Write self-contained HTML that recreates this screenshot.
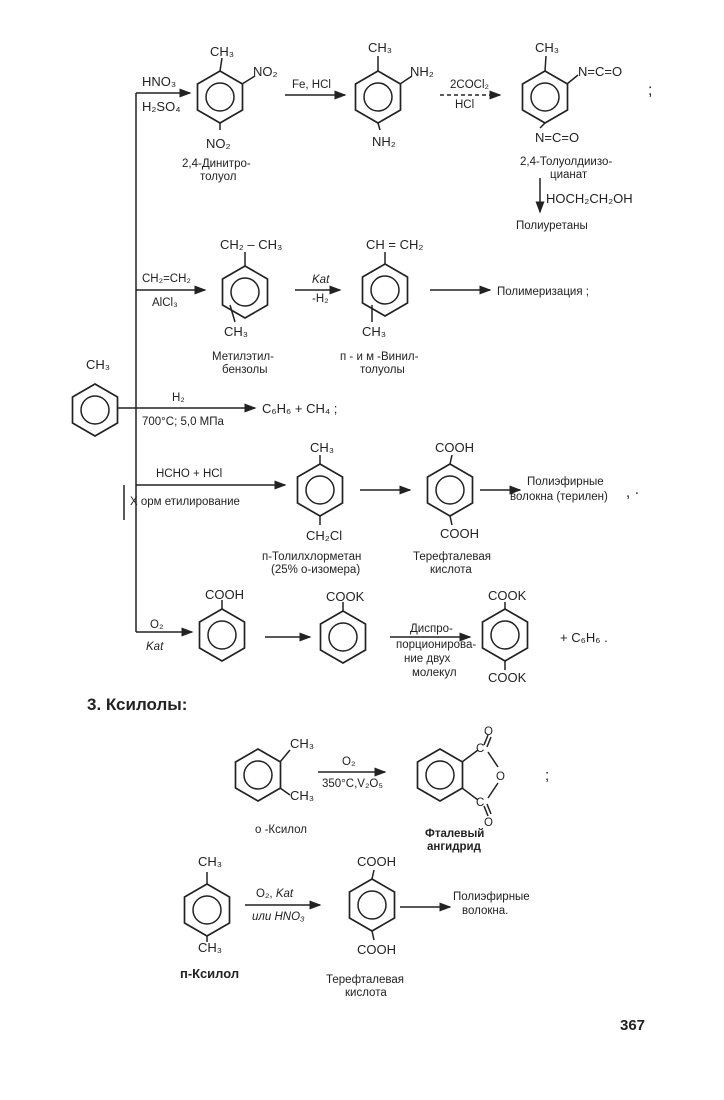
<!DOCTYPE html>
<html><head><meta charset="utf-8"><style>
body{margin:0;background:#fff}
svg{display:block}
text{font-family:"Liberation Sans",sans-serif;font-size:13px;fill:#222}
.s{font-size:11.5px}
.b{font-weight:bold}
</style></head><body>
<svg width="724" height="1100" viewBox="0 0 724 1100" xmlns="http://www.w3.org/2000/svg">
<defs>
<marker id="a" markerWidth="8" markerHeight="6" refX="7" refY="3" orient="auto"><path d="M0,0 L8,3 L0,6 z" fill="#222"/></marker>
<symbol id="bz" viewBox="-27 -27 54 54" width="54" height="54" overflow="visible">
<polygon points="0,-26 22.5,-13 22.5,13 0,26 -22.5,13 -22.5,-13" fill="none" stroke="#222" stroke-width="1.7"/>
<circle r="14" fill="none" stroke="#222" stroke-width="1.5"/>
</symbol>
</defs>
<g stroke="#222" stroke-width="1.5" fill="none">
<line x1="136" y1="93" x2="136" y2="632"/>
<line x1="136" y1="93" x2="190" y2="93" marker-end="url(#a)"/>
<line x1="136" y1="290" x2="205" y2="290" marker-end="url(#a)"/>
<line x1="118" y1="408" x2="255" y2="408" marker-end="url(#a)"/>
<line x1="136" y1="485" x2="285" y2="485" marker-end="url(#a)"/>
<line x1="124" y1="485" x2="124" y2="520"/>
<line x1="136" y1="632" x2="192" y2="632" marker-end="url(#a)"/>
<line x1="285" y1="95" x2="345" y2="95" marker-end="url(#a)"/>
<line x1="440" y1="95" x2="500" y2="95" stroke-dasharray="4,3" marker-end="url(#a)"/>
<line x1="220" y1="71" x2="222" y2="58"/><line x1="242" y1="84" x2="255" y2="76"/><line x1="220" y1="123" x2="220" y2="130"/>
<line x1="378" y1="71" x2="378" y2="56"/><line x1="400" y1="84" x2="412" y2="76"/><line x1="378" y1="123" x2="380" y2="130"/>
<line x1="545" y1="71" x2="546" y2="56"/><line x1="567" y1="84" x2="578" y2="75"/><line x1="545" y1="123" x2="540" y2="128"/>
<line x1="540" y1="178" x2="540" y2="212" marker-end="url(#a)"/>
<line x1="245" y1="266" x2="245" y2="252"/><line x1="230" y1="305" x2="235" y2="322"/>
<line x1="295" y1="290" x2="340" y2="290" marker-end="url(#a)"/>
<line x1="385" y1="264" x2="385" y2="252"/><line x1="372" y1="305" x2="372" y2="322"/>
<line x1="430" y1="290" x2="490" y2="290" marker-end="url(#a)"/>
<line x1="320" y1="464" x2="320" y2="455"/><line x1="320" y1="516" x2="320" y2="525"/>
<line x1="360" y1="490" x2="410" y2="490" marker-end="url(#a)"/>
<line x1="450" y1="464" x2="452" y2="455"/><line x1="450" y1="516" x2="452" y2="525"/>
<line x1="480" y1="490" x2="520" y2="490" marker-end="url(#a)"/>
<line x1="222" y1="609" x2="222" y2="600"/>
<line x1="265" y1="637" x2="310" y2="637" marker-end="url(#a)"/>
<line x1="343" y1="611" x2="343" y2="602"/>
<line x1="390" y1="637" x2="470" y2="637" marker-end="url(#a)"/>
<line x1="505" y1="609" x2="505" y2="602"/><line x1="505" y1="661" x2="505" y2="670"/>
<line x1="280" y1="762" x2="290" y2="750"/><line x1="280" y1="788" x2="290" y2="795"/>
<line x1="318" y1="772" x2="385" y2="772" marker-end="url(#a)"/>
<line x1="462" y1="762" x2="478" y2="750"/><line x1="462" y1="788" x2="478" y2="800"/>
<line x1="488" y1="752" x2="498" y2="767"/><line x1="488" y1="798" x2="498" y2="783"/>
<line x1="484" y1="745" x2="488" y2="735"/><line x1="487" y1="747" x2="491" y2="737"/>
<line x1="484" y1="806" x2="488" y2="816"/><line x1="487" y1="804" x2="491" y2="814"/>
<line x1="207" y1="884" x2="207" y2="872"/><line x1="207" y1="936" x2="207" y2="942"/>
<line x1="245" y1="905" x2="320" y2="905" marker-end="url(#a)"/>
<line x1="372" y1="879" x2="374" y2="870"/><line x1="372" y1="931" x2="374" y2="940"/>
<line x1="400" y1="907" x2="450" y2="907" marker-end="url(#a)"/>
</g>
<use href="#bz" x="193" y="70"/>
<use href="#bz" x="351" y="70"/>
<use href="#bz" x="518" y="70"/>
<use href="#bz" x="218" y="265"/>
<use href="#bz" x="358" y="263"/>
<use href="#bz" x="68" y="383"/>
<use href="#bz" x="293" y="463"/>
<use href="#bz" x="423" y="463"/>
<use href="#bz" x="195" y="608"/>
<use href="#bz" x="316" y="610"/>
<use href="#bz" x="478" y="608"/>
<use href="#bz" x="231" y="748"/>
<use href="#bz" x="413" y="748"/>
<use href="#bz" x="180" y="883"/>
<use href="#bz" x="345" y="878"/>

<text x="142" y="86">HNO₃</text><text x="142" y="111">H₂SO₄</text>
<text x="210" y="56">CH₃</text><text x="253" y="76">NO₂</text><text x="206" y="148">NO₂</text>
<text x="182" y="167" class="s">2,4-Динитро-</text><text x="200" y="180" class="s">толуол</text>
<text x="292" y="88" class="s">Fe, HCl</text>
<text x="368" y="52">CH₃</text><text x="410" y="76">NH₂</text><text x="372" y="146">NH₂</text>
<text x="450" y="88" class="s">2COCl₂</text><text x="455" y="108" class="s">HCl</text>
<text x="535" y="52">CH₃</text><text x="578" y="76">N=C=O</text><text x="535" y="142">N=C=O</text>
<text x="648" y="95" style="font-size:16px">;</text>
<text x="520" y="165" class="s">2,4-Толуолдиизо-</text><text x="550" y="178" class="s">цианат</text>
<text x="546" y="203">HOCH₂CH₂OH</text><text x="516" y="229" class="s">Полиуретаны</text>

<text x="142" y="282" class="s">CH₂=CH₂</text><text x="152" y="306" class="s">AlCl₃</text>
<text x="220" y="249">CH₂ – CH₃</text><text x="224" y="336">CH₃</text>
<text x="212" y="360" class="s">Метилэтил-</text><text x="222" y="373" class="s">бензолы</text>
<text x="312" y="283" class="s" font-style="italic">Kat</text><text x="312" y="302" class="s">-H₂</text>
<text x="366" y="249">CH = CH₂</text><text x="362" y="336">CH₃</text>
<text x="340" y="360" class="s">п - и м -Винил-</text><text x="360" y="373" class="s">толуолы</text>
<text x="497" y="295" class="s">Полимеризация  ;</text>

<text x="86" y="369">CH₃</text>
<text x="172" y="401" class="s">H₂</text><text x="142" y="425" class="s">700°C; 5,0 МПа</text>
<text x="262" y="413">C₆H₆ + CH₄ ;</text>

<text x="156" y="477" class="s">HCHO + HCl</text><text x="130" y="505" class="s">Х орм   етилирование</text>
<text x="310" y="452">CH₃</text><text x="306" y="540">CH₂Cl</text>
<text x="262" y="560" class="s">п-Толилхлорметан</text><text x="271" y="573" class="s">(25% о-изомера)</text>
<text x="435" y="452">COOH</text><text x="440" y="538">COOH</text>
<text x="413" y="560" class="s">Терефталевая</text><text x="430" y="573" class="s">кислота</text>
<text x="527" y="485" class="s">Полиэфирные</text><text x="510" y="500" class="s">волокна (терилен)</text>
<text x="626" y="497" style="font-size:15px">, ·</text>

<text x="150" y="628" class="s">O₂</text><text x="146" y="650" class="s" font-style="italic">Kat</text>
<text x="205" y="599">COOH</text><text x="326" y="601">COOK</text>
<text x="410" y="632" class="s">Диспро-</text><text x="396" y="648" class="s">порционирова-</text>
<text x="404" y="662" class="s">ние двух</text><text x="412" y="676" class="s">молекул</text>
<text x="488" y="600">COOK</text><text x="488" y="682">COOK</text>
<text x="560" y="642">+  C₆H₆ .</text>

<text x="87" y="710" class="b" style="font-size:17px">3. Ксилолы:</text>
<text x="290" y="748">CH₃</text><text x="290" y="800">CH₃</text>
<text x="342" y="765" class="s">O₂</text><text x="322" y="787" class="s">350°C,V₂O₅</text>
<text x="255" y="833" class="s">о -Ксилол</text>
<text x="484" y="735" class="s">O</text><text x="496" y="780" class="s">O</text><text x="484" y="826" class="s">O</text>
<text x="476" y="752" class="s">C</text><text x="476" y="806" class="s">C</text>
<text x="545" y="780" style="font-size:15px">;</text>
<text x="425" y="837" class="s b">Фталевый</text><text x="427" y="850" class="s b">ангидрид</text>
<text x="198" y="866">CH₃</text><text x="198" y="952">CH₃</text>
<text x="256" y="897" class="s">O₂, <tspan font-style="italic">Kat</tspan></text><text x="252" y="920" class="s" font-style="italic">или HNO₃</text>
<text x="357" y="866">COOH</text><text x="357" y="954">COOH</text>
<text x="453" y="900" class="s">Полиэфирные</text><text x="462" y="914" class="s">волокна.</text>
<text x="180" y="978" class="b">п-Ксилол</text>
<text x="326" y="983" class="s">Терефталевая</text><text x="345" y="996" class="s">кислота</text>
<text x="620" y="1030" class="b" style="font-size:15px">367</text>
</svg>
</body></html>
